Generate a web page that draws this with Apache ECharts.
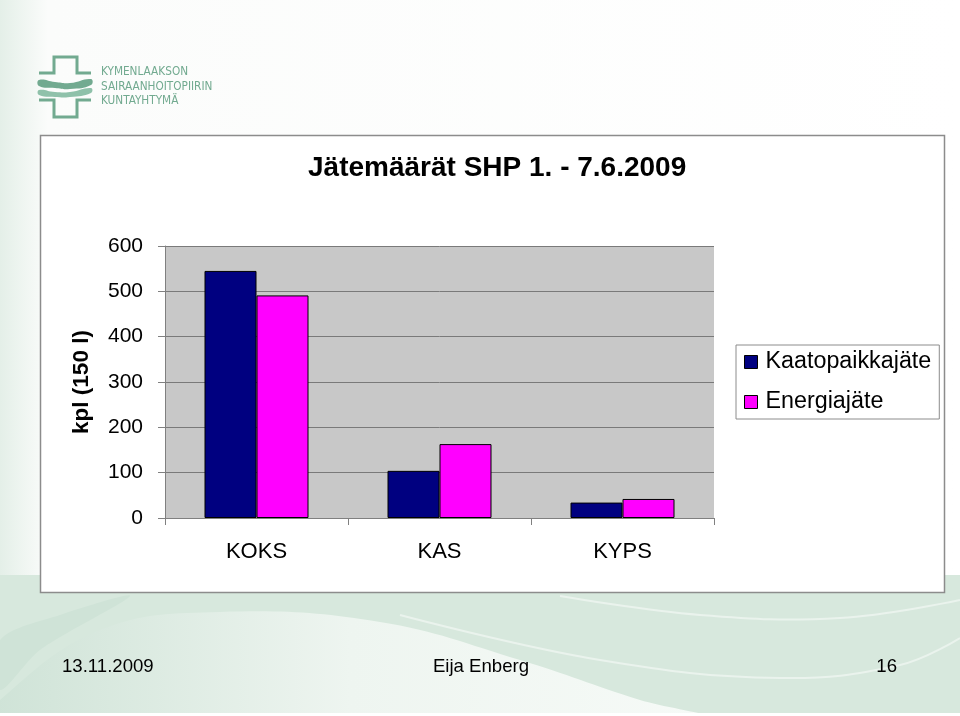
<!DOCTYPE html>
<html>
<head>
<meta charset="utf-8">
<script src="https://cdn.jsdelivr.net/npm/echarts@6/dist/echarts.min.js"></script>
<style>
html,body{margin:0;padding:0;background:#fff;}
#c{width:960px;height:716px;}
</style>
</head>
<body>
<div id="c"></div>
<script>
const categories = ['KOKS', 'KAS', 'KYPS'];
const seriesNames = ['Kaatopaikkajäte', 'Energiajäte'];
const kaatopaikkajate = [545, 104, 34];
const energiajate = [491, 163, 42];
const yTicks = [0, 100, 200, 300, 400, 500, 600];
const titleText = 'Jätemäärät SHP 1. - 7.6.2009';
const yAxisName = 'kpl (150 l)';
const footerDate = '13.11.2009';
const footerAuthor = 'Eija Enberg';
const footerPage = '16';
const logoLines = ['KYMENLAAKSON', 'SAIRAANHOITOPIIRIN', 'KUNTAYHTYMÄ'];

const chart = echarts.init(document.getElementById('c'), null, {renderer: 'canvas'});
const font = '"Liberation Sans", Arial, Helvetica, sans-serif';
const logoGreen = '#72aa90';
const logoFont = '11.7px "DejaVu Sans Condensed", "Liberation Sans Narrow", sans-serif';

const graphics = [
  // slide background
  {type: 'rect', z: -20, shape: {x: 0, y: 0, width: 960, height: 716},
   style: {fill: new echarts.graphic.LinearGradient(0, 0, 1, 0, [
     {offset: 0, color: '#e4efe8'}, {offset: 0.05, color: '#fbfcfb'}, {offset: 1, color: '#ffffff'}])}},
  // bottom green band
  {type: 'rect', z: -19, shape: {x: 0, y: 575, width: 960, height: 141}, style: {fill: '#d7e8dd'}},
  // darker diagonal lower-left
  {type: 'polygon', z: -18.5, shape: {smooth: 0.3, points: [[0, 640], [60, 615], [130, 596], [40, 650], [0, 690]]},
   style: {fill: '#cfe3d7'}},
  // lighter wave lower-left / middle
  {type: 'polygon', z: -18, shape: {smooth: 0.4, points: [[0, 716], [0, 700], [100, 630], [220, 612], [380, 622], [520, 660], [640, 700], [700, 716]]},
   style: {fill: new echarts.graphic.LinearGradient(0, 0, 1, 0, [
     {offset: 0, color: '#cfe3d7'}, {offset: 0.5, color: '#eef5f0'}, {offset: 1, color: '#f6faf7'}])}},
  // wave lines right
  {type: 'polyline', z: -17, shape: {smooth: 0.4, points: [[400, 615], [600, 660], [780, 678], [900, 665], [960, 638]]},
   style: {fill: null, stroke: '#eaf3ed', lineWidth: 2}},
  {type: 'polyline', z: -17, shape: {smooth: 0.4, points: [[560, 596], [700, 615], [840, 618], [960, 600]]},
   style: {fill: null, stroke: '#eaf3ed', lineWidth: 2}},
  // bottom white strip
  {type: 'rect', z: -16, shape: {x: 0, y: 713, width: 960, height: 3}, style: {fill: '#ffffff'}},
  // chart box
  {type: 'rect', z: -10, shape: {x: 40.5, y: 135.5, width: 904, height: 457},
   style: {fill: '#ffffff', stroke: '#8c8c8c', lineWidth: 1.5}},
  // logo cross
  {type: 'polyline', z: 1, shape: {points: [[39, 73], [54, 73], [54, 57], [77, 57], [77, 73], [91, 73]]},
   style: {stroke: logoGreen, lineWidth: 3, fill: null}},
  {type: 'polyline', z: 1, shape: {points: [[39, 100], [54, 100], [54, 117], [77, 117], [77, 100], [91, 100]]},
   style: {stroke: logoGreen, lineWidth: 3, fill: null}},
  {type: 'polygon', z: 1, shape: {smooth: 0.5, points: [[39, 80], [55, 82], [70, 83], [91, 79], [91, 85], [70, 89], [55, 88], [39, 86]]},
   style: {fill: logoGreen}},
  {type: 'polygon', z: 1, shape: {smooth: 0.5, points: [[39, 90], [55, 92], [70, 92], [91, 88], [91, 93], [70, 97], [55, 97], [39, 95]]},
   style: {fill: '#8fc1aa'}},
  // logo text
  {type: 'text', z: 1, style: {x: 101, y: 72, text: logoLines[0], fill: logoGreen, font: logoFont, verticalAlign: 'middle'}},
  {type: 'text', z: 1, style: {x: 101, y: 87, text: logoLines[1], fill: logoGreen, font: logoFont, verticalAlign: 'middle'}},
  {type: 'text', z: 1, style: {x: 101, y: 101, text: logoLines[2], fill: logoGreen, font: logoFont, verticalAlign: 'middle'}},
  // footer
  {type: 'text', z: 1, style: {x: 62, y: 667, text: footerDate, fill: '#000', font: '18.6px ' + font, verticalAlign: 'middle'}},
  {type: 'text', z: 1, style: {x: 481, y: 667, text: footerAuthor, fill: '#000', font: '18.6px ' + font, verticalAlign: 'middle', align: 'center'}},
  {type: 'text', z: 1, style: {x: 897, y: 667, text: footerPage, fill: '#000', font: '18.6px ' + font, verticalAlign: 'middle', align: 'right'}}
];

const option = {
  animation: false,
  backgroundColor: 'transparent',
  title: {
    text: titleText,
    left: 308, top: 154,
    padding: 0,
    textStyle: {fontFamily: font, fontSize: 28, fontWeight: 'bold', color: '#000'}
  },
  legend: {
    orient: 'vertical',
    left: 736, top: 345,
    padding: [4, 8, 4, 8],
    itemGap: 14,
    itemWidth: 13, itemHeight: 13,
    icon: 'rect',
    borderColor: '#8c8c8c', borderWidth: 1,
    backgroundColor: '#ffffff',
    textStyle: {fontFamily: font, fontSize: 23.3, color: '#000', lineHeight: 26, padding: [0, 0, 0, 3]},
    itemStyle: {borderColor: '#000', borderWidth: 1},
    data: seriesNames
  },
  grid: {
    left: 165, top: 246, right: 246, bottom: 198,
    show: true, backgroundColor: '#c8c8c8', borderWidth: 0
  },
  xAxis: {
    type: 'category',
    data: categories,
    axisLine: {show: true, lineStyle: {color: '#808080', width: 1}},
    axisTick: {show: true, length: 7, alignWithLabel: false, lineStyle: {color: '#808080'}},
    axisLabel: {fontFamily: font, fontSize: 22, color: '#000', margin: 23}
  },
  yAxis: {
    type: 'value',
    min: yTicks[0], max: yTicks[yTicks.length - 1], interval: 100,
    name: yAxisName,
    nameLocation: 'middle',
    nameGap: 72,
    nameRotate: 90,
    nameTextStyle: {fontFamily: font, fontSize: 22.5, fontWeight: 'bold', color: '#000'},
    axisLine: {show: true, lineStyle: {color: '#808080', width: 1}},
    axisTick: {show: true, length: 7, inside: false, lineStyle: {color: '#808080'}},
    axisLabel: {fontFamily: font, fontSize: 21, color: '#000', margin: 22},
    splitLine: {show: true, lineStyle: {color: '#7a7a7a', width: 1}}
  },
  series: [
    {name: seriesNames[0], type: 'bar', data: kaatopaikkajate, barWidth: 52, barGap: '0%',
     itemStyle: {color: '#000080', borderColor: '#000', borderWidth: 1}},
    {name: seriesNames[1], type: 'bar', data: energiajate, barWidth: 52, barGap: '0%',
     itemStyle: {color: '#ff00ff', borderColor: '#000', borderWidth: 1}}
  ],
  graphic: graphics
};
chart.setOption(option);
</script>
</body>
</html>
